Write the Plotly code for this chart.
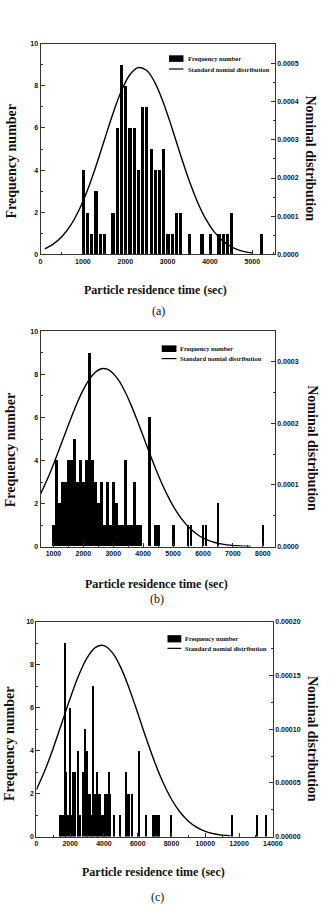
import plotly.graph_objects as go

W, H = 332, 919

# ---------------- data ----------------
# Panel (a)
a_time = [1000, 1100, 1200, 1300, 1400, 1500, 1700, 1800, 1900, 2000, 2100, 2200, 2300, 2400,
          2500, 2600, 2700, 2800, 2900, 3000, 3100, 3200, 3300, 3500, 3800, 4000, 4200, 4300,
          4400, 4500, 5200]
a_count = [4, 2, 1, 3, 1, 1, 2, 6, 9, 8, 6, 6, 4, 7,
           7, 5, 4, 4, 5, 1, 1, 2, 2, 1, 1, 1, 1, 1,
           1, 2, 1]
a_curve_x = [100, 300, 500, 700, 900, 1100, 1300, 1500, 1700, 1900, 2100, 2300, 2500, 2700,
             2900, 3100, 3300, 3500, 3700, 3900, 4100, 4300, 4500, 4700, 4900, 5000]
a_curve_y = [0.0000147, 0.0000267, 0.0000459, 0.0000745, 0.0001144, 0.0001662, 0.0002285,
             0.0002972, 0.0003658, 0.0004259, 0.0004693, 0.0004892, 0.0004824, 0.0004502,
             0.0003974, 0.0003320, 0.0002624, 0.0001962, 0.0001388, 0.0000929, 0.0000588,
             0.0000353, 0.0000200, 0.0000107, 0.0000054, 0.0000038]

# Panel (b)
b_time = [1000, 1100, 1200, 1300, 1400, 1500, 1600, 1700, 1800, 1900, 2000, 2100, 2200, 2300,
          2400, 2500, 2600, 2700, 2800, 2900, 3000, 3100, 3200, 3300, 3400, 3500, 3600, 3700,
          3800, 3900, 4200, 4400, 4500, 5000, 5500, 5600, 6000, 6100, 6500, 8000]
b_count = [1, 4, 2, 3, 3, 4, 4, 5, 3, 4, 3, 4, 9, 4,
           3, 2, 3, 1, 3, 1, 3, 2, 1, 1, 4, 1, 1, 3,
           1, 1, 6, 1, 1, 1, 1, 1, 1, 1, 2, 1]
b_curve_x = [570, 800, 1000, 1200, 1400, 1600, 1800, 2000, 2200, 2400, 2600, 2800, 3000, 3200,
             3400, 3600, 3800, 4000, 4200, 4400, 4600, 4800, 5000, 5200, 5400, 5600, 5800,
             6000, 6200, 6400, 6600, 6800, 7000, 7200, 7400, 7600]
b_curve_y = [0.0000852, 0.0001096, 0.0001332, 0.0001585, 0.0001844, 0.0002098, 0.0002337,
             0.0002546, 0.0002713, 0.0002828, 0.0002885, 0.0002879, 0.0002810, 0.0002683,
             0.0002507, 0.0002291, 0.0002049, 0.0001792, 0.0001533, 0.0001283, 0.0001051,
             0.0000842, 0.0000660, 0.0000506, 0.0000380, 0.0000279, 0.0000200, 0.0000140,
             0.0000097, 0.0000065, 0.0000043, 0.0000027, 0.0000017, 0.0000011, 0.0000006,
             0.0000003]

# Panel (c)
c_time = [1400, 1500, 1600, 1700, 1800, 1900, 2000, 2100, 2200, 2300, 2500, 2600, 2800, 2900,
          3000, 3100, 3200, 3300, 3400, 3500, 3600, 3700, 3800, 3900, 4000, 4100, 4200, 4300,
          4400, 4600, 5000, 5300, 5400, 5500, 5700, 6100, 6500, 6900, 7000, 7100, 7200, 7300,
          8000, 11600, 13100, 13600]
c_count = [1, 1, 1, 9, 3, 1, 6, 1, 3, 3, 4, 1, 3, 5,
           4, 2, 2, 1, 7, 2, 3, 2, 2, 1, 1, 2, 2, 3,
           2, 1, 1, 3, 2, 2, 2, 4, 1, 1, 1, 1, 1, 1,
           1, 1, 1, 1]
c_curve_x = [0, 500, 1000, 1500, 2000, 2500, 3000, 3500, 4000, 4500, 5000, 5500, 6000, 6500,
             7000, 7500, 8000, 8500, 9000, 9500, 10000, 10500, 11000, 11500]
c_curve_y = [0.0000437, 0.0000615, 0.0000826, 0.0001057, 0.0001289, 0.0001501, 0.0001666,
             0.0001763, 0.0001780, 0.0001714, 0.0001574, 0.0001378, 0.0001151, 0.0000916,
             0.0000696, 0.0000504, 0.0000348, 0.0000229, 0.0000144, 0.0000086, 0.0000049,
             0.0000027, 0.0000014, 0.0000007]

legend_bar = "Frequency number"
legend_line = "Standard nomial distribution"
x_title = "Particle residence time (sec)"
y_title = "Frequency number"
y2_title = "Nominal distribution"
captions = ["(a)", "(b)", "(c)"]

# ---------------- styling ----------------
SERIF = "Liberation Serif, Times New Roman, serif"
SANS = "Liberation Sans, Arial, sans-serif"
AX = "#333333"
tickfont = dict(family=SANS, size=7, color="#111111", weight="bold")


def px_x(v):
    return v / W


def px_y(v):
    return 1 - v / H


panels = [
    dict(time=a_time, count=a_count, cx=a_curve_x, cy=a_curve_y, bw=76,
         xd=[40, 283], yd=[40, 252.3], xr=[0, 5530], xdt=1000, xt0=0, xminor=500,
         y2r=[0, 0.000552], y2dt=0.0001, y2minor=0.00005, y2fmt=".4f",
         titles=dict(freq=(10, 159), part=(159, 288), nom=(320, 156), cap=(162, 309)),
         leg=dict(sw=(173.3, 188.3, 51.7, 58.3), ly=65.5, tx=190.5)),
    dict(time=b_time, count=b_count, cx=b_curve_x, cy=b_curve_y, bw=66,
         xd=[40, 283], yd=[330, 546.7], xr=[570, 8400], xdt=1000, xt0=1000, xminor=500,
         y2r=[0, 0.000349], y2dt=0.0001, y2minor=0.00005, y2fmt=".4f",
         titles=dict(freq=(9, 450), part=(160, 584), nom=(322, 448), cap=(161, 600)),
         leg=dict(sw=(165.7, 181, 344, 350.7), ly=357.3, tx=183)),
    dict(time=c_time, count=c_count, cx=c_curve_x, cy=c_curve_y, bw=60,
         xd=[35.7, 281], yd=[622.7, 839], xr=[0, 14000], xdt=2000, xt0=0, xminor=1000,
         y2r=[0, 0.0002], y2dt=0.00005, y2minor=0.000025, y2fmt=".5f",
         titles=dict(freq=(8, 746), part=(157.5, 875), nom=(322, 741), cap=(161, 900)),
         leg=dict(sw=(171.7, 186, 636, 643.3), ly=649.3, tx=188)),
]

fig = go.Figure()
layout = dict(width=W, height=H, margin=dict(l=0, r=0, t=0, b=0),
              paper_bgcolor="white", plot_bgcolor="white", showlegend=False,
              bargap=0)
annotations = []
shapes = []

for i, p in enumerate(panels):
    xa = "x" if i == 0 else f"x{i+1}"
    ya = "y" if i == 0 else f"y{2*i+1}"
    y2a = f"y{2*i+2}"
    xkey = "xaxis" if i == 0 else f"xaxis{i+1}"
    ykey = "yaxis" if i == 0 else f"yaxis{2*i+1}"
    y2key = f"yaxis{2*i+2}"

    fig.add_trace(go.Bar(x=p["time"], y=p["count"], width=p["bw"], xaxis=xa, yaxis=ya,
                         marker=dict(color="black", line=dict(width=0)), name=legend_bar))
    fig.add_trace(go.Scatter(x=p["cx"], y=p["cy"], xaxis=xa, yaxis=y2a, mode="lines",
                             line=dict(color="black", width=1.4, shape="spline"),
                             name=legend_line))

    xdom = [px_x(p["xd"][0]), px_x(p["xd"][1])]
    ydom = [px_y(p["yd"][1]), px_y(p["yd"][0])]
    layout[xkey] = dict(domain=xdom, anchor=ya, range=p["xr"], dtick=p["xdt"], tick0=p["xt0"],
                        showline=True, linecolor=AX, linewidth=1, mirror=True,
                        ticks="inside", ticklen=4, tickcolor=AX, showgrid=False,
                        zeroline=False, tickfont=dict(tickfont), tickformat="d",
                        minor=dict(ticks="inside", ticklen=2, dtick=p["xminor"], tickcolor=AX))
    layout[ykey] = dict(domain=ydom, anchor=xa, range=[0, 10], dtick=2,
                        showline=True, linecolor=AX, linewidth=1, mirror=True,
                        ticks="inside", ticklen=4, tickcolor=AX, showgrid=False,
                        zeroline=False, tickfont=dict(tickfont),
                        minor=dict(ticks="inside", ticklen=2, dtick=1, tickcolor=AX))
    layout[y2key] = dict(domain=ydom, anchor=xa, overlaying=ya, side="right",
                         range=p["y2r"], dtick=p["y2dt"], tickformat=p["y2fmt"],
                         showline=True, linecolor=AX, linewidth=1,
                         ticks="inside", ticklen=4, tickcolor=AX, showgrid=False,
                         zeroline=False, tickfont=dict(tickfont),
                         minor=dict(ticks="inside", ticklen=2, dtick=p["y2minor"], tickcolor=AX))

    t = p["titles"]
    annotations += [
        dict(text=y_title, x=px_x(t["freq"][0]), y=px_y(t["freq"][1]), textangle=-90,
             font=dict(family=SERIF, size=14, color="#111", weight="bold")),
        dict(text=x_title, x=px_x(t["part"][0]), y=px_y(t["part"][1]),
             font=dict(family=SERIF, size=12, color="#111", weight="bold")),
        dict(text=y2_title, x=px_x(t["nom"][0]), y=px_y(t["nom"][1]), textangle=90,
             font=dict(family=SERIF, size=14, color="#111", weight="bold")),
        dict(text=captions[i], x=px_x(t["cap"][0]), y=px_y(t["cap"][1]),
             font=dict(family=SERIF, size=12, color="#111")),
    ]
    lg = p["leg"]
    x0, x1, y0, y1 = lg["sw"]
    shapes.append(dict(type="rect", xref="paper", yref="paper",
                       x0=px_x(x0), x1=px_x(x1), y0=px_y(y1), y1=px_y(y0),
                       fillcolor="black", line=dict(width=0)))
    shapes.append(dict(type="line", xref="paper", yref="paper",
                       x0=px_x(x0), x1=px_x(x1), y0=px_y(lg["ly"]), y1=px_y(lg["ly"]),
                       line=dict(color="black", width=1.2)))
    annotations += [
        dict(text=legend_bar, x=px_x(lg["tx"]), y=px_y((y0 + y1) / 2), xanchor="left",
             font=dict(family=SERIF, size=6.5, color="#111", weight="bold")),
        dict(text=legend_line, x=px_x(lg["tx"]), y=px_y(lg["ly"]), xanchor="left",
             font=dict(family=SERIF, size=6.5, color="#111", weight="bold")),
    ]

for a in annotations:
    a.setdefault("xref", "paper")
    a.setdefault("yref", "paper")
    a.setdefault("showarrow", False)
    a.setdefault("xanchor", "center")
    a.setdefault("yanchor", "middle")

layout["annotations"] = annotations
layout["shapes"] = shapes
fig.update_layout(**layout)
fig.write_html("out.html")
